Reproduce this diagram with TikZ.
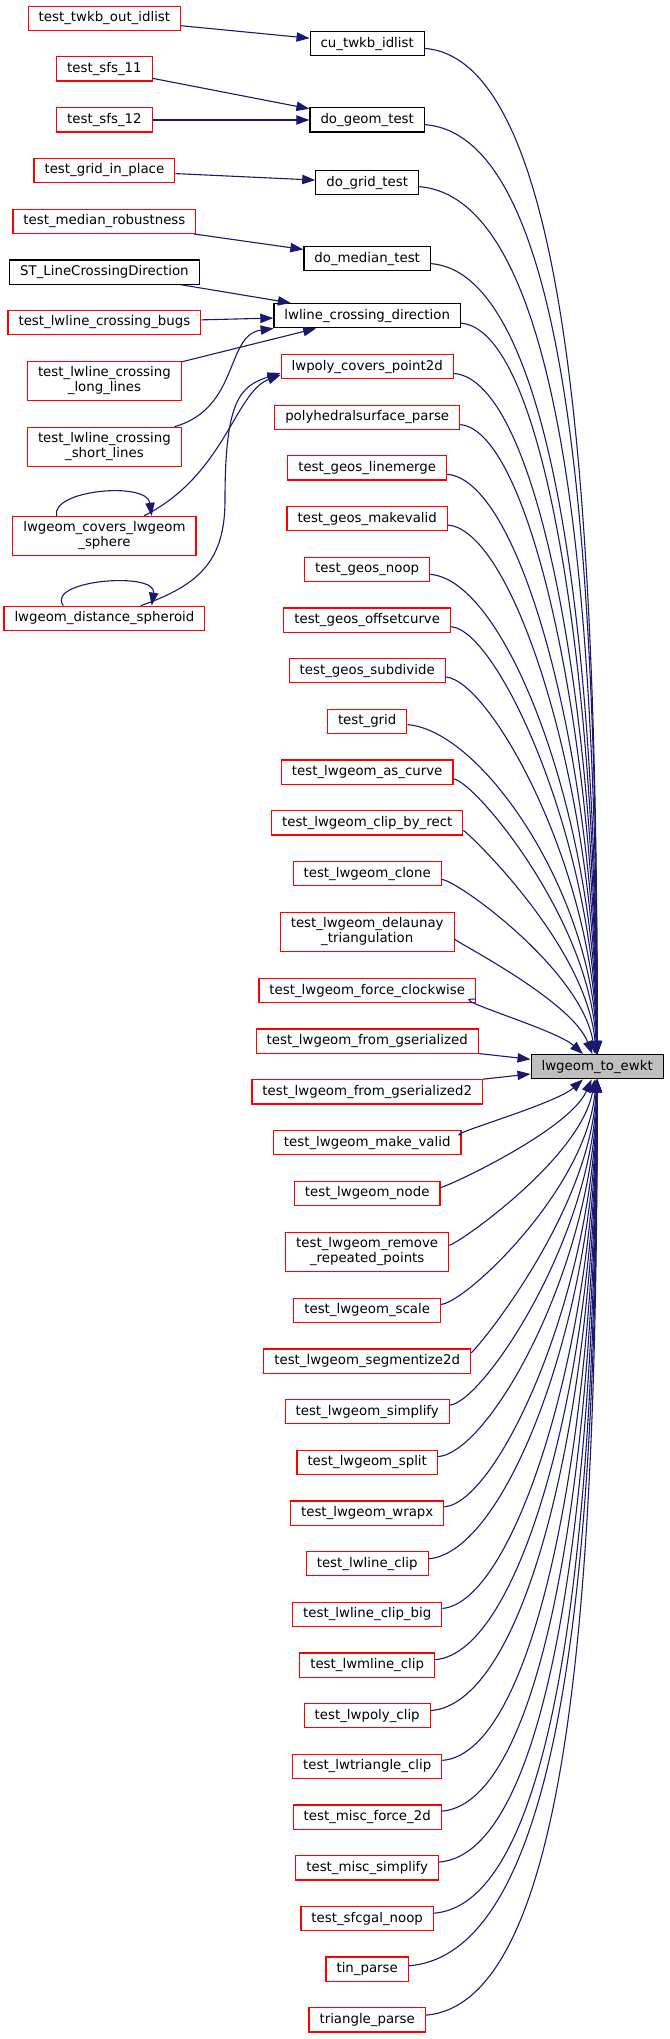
\documentclass[tikz,border=0pt]{standalone}
\usepackage{fontspec}
\setmainfont{DejaVu Sans}
\usetikzlibrary{arrows.meta}
\definecolor{edgeblue}{HTML}{191970}
\definecolor{maingray}{HTML}{BFBFBF}
\tikzset{
  basebox/.style={draw, fill=white, line width=1.2pt, inner xsep=10.5pt, inner ysep=0pt,
    minimum height=24.2pt, font=\fontsize{13.33pt}{15pt}\selectfont},
  onel/.style={basebox, text height=10pt, text depth=3pt},
  blk/.style={onel, draw=black},
  rd/.style={onel, draw=red},
  rdtwo/.style={basebox, draw=red, align=center, minimum height=38.8pt},
  mainbox/.style={onel, draw=black, fill=maingray},
  edge/.style={draw=edgeblue, line width=1.1pt, -{Triangle[length=13pt,width=9.3pt]}}
}
\begin{document}
\begin{tikzpicture}[x=1pt,y=-1pt]
\fill[white] (0,0) rectangle (669,2039);
\useasboundingbox (0,0) rectangle (669,2039);
% left column
\node[rd] (ltwkb) at (104.4,18.3) {test\_twkb\_out\_idlist};
\node[rd] (lsfsa) at (104.4,69) {test\_sfs\_11};
\node[rd] (lsfsb) at (104.4,120) {test\_sfs\_12};
\node[rd] (lgridip) at (104.4,170.3) {test\_grid\_in\_place};
\node[rd] (lmedrob) at (104.4,221.3) {test\_median\_robustness};
\node[blk] (lstlcd) at (104.4,272) {ST\_LineCrossingDirection};
\node[rd] (lbugs) at (104.4,322.3) {test\_lwline\_crossing\_bugs};
\node[rdtwo] (llong) at (104.4,381) {test\_lwline\_crossing\\\_long\_lines};
\node[rdtwo] (lshort) at (104.4,446.7) {test\_lwline\_crossing\\\_short\_lines};
\node[rdtwo] (lcovers) at (104.4,535.8) {lwgeom\_covers\_lwgeom\\\_sphere};
\node[rd] (ldist) at (104.4,618.3) {lwgeom\_distance\_spheroid};
% middle column
\node[blk] (mcu) at (367.2,43.8) {cu\_twkb\_idlist};
\node[blk] (mgeom) at (367.2,120) {do\_geom\_test};
\node[blk] (mgridt) at (367.2,182.5) {do\_grid\_test};
\node[blk] (mmedian) at (367.2,258.5) {do\_median\_test};
\node[blk] (mlcd) at (367.2,315.7) {lwline\_crossing\_direction};
\node[rd] (mlwpoly) at (367.2,366.5) {lwpoly\_covers\_point2d};
\node[rd] (mpolyh) at (367.2,417.2) {polyhedralsurface\_parse};
\node[rd] (mlinemerge) at (367.2,467.9) {test\_geos\_linemerge};
\node[rd] (mmakevalid) at (367.2,518.6) {test\_geos\_makevalid};
\node[rd] (mnoop) at (367.2,569.3) {test\_geos\_noop};
\node[rd] (moffset) at (367.2,620.0) {test\_geos\_offsetcurve};
\node[rd] (msubdiv) at (367.2,670.7) {test\_geos\_subdivide};
\node[rd] (mgrid) at (367.2,721.4) {test\_grid};
\node[rd] (mascurve) at (367.2,772.1) {test\_lwgeom\_as\_curve};
\node[rd] (mcliprect) at (367.2,822.8) {test\_lwgeom\_clip\_by\_rect};
\node[rd] (mclone) at (367.2,873.5) {test\_lwgeom\_clone};
\node[rdtwo] (mdelaunay) at (367.2,931.9) {test\_lwgeom\_delaunay\\\_triangulation};
\node[rd] (mforcecw) at (367.2,990.5) {test\_lwgeom\_force\_clockwise};
\node[rd] (mfromg) at (367.2,1041.1) {test\_lwgeom\_from\_gserialized};
\node[rd] (mfromgtwo) at (367.2,1091.8) {test\_lwgeom\_from\_gserialized2};
\node[rd] (mmkvalid) at (367.2,1142.5) {test\_lwgeom\_make\_valid};
\node[rd] (mnode) at (367.2,1193.3) {test\_lwgeom\_node};
\node[rdtwo] (mremove) at (367.2,1251.8) {test\_lwgeom\_remove\\\_repeated\_points};
\node[rd] (mscale) at (367.2,1310.3) {test\_lwgeom\_scale};
\node[rd] (msegm) at (367.2,1361.0) {test\_lwgeom\_segmentize2d};
\node[rd] (msimplify) at (367.2,1411.7) {test\_lwgeom\_simplify};
\node[rd] (msplit) at (367.2,1462.3) {test\_lwgeom\_split};
\node[rd] (mwrapx) at (367.2,1513.0) {test\_lwgeom\_wrapx};
\node[rd] (mlwlineclip) at (367.2,1563.7) {test\_lwline\_clip};
\node[rd] (mclipbig) at (367.2,1614.4) {test\_lwline\_clip\_big};
\node[rd] (mlwmline) at (367.2,1665.1) {test\_lwmline\_clip};
\node[rd] (mlwpolyclip) at (367.2,1715.7) {test\_lwpoly\_clip};
\node[rd] (mlwtri) at (367.2,1766.4) {test\_lwtriangle\_clip};
\node[rd] (mforcetwod) at (367.2,1817.1) {test\_misc\_force\_2d};
\node[rd] (mmiscsimp) at (367.2,1867.8) {test\_misc\_simplify};
\node[rd] (msfcgal) at (367.2,1918.5) {test\_sfcgal\_noop};
\node[rd] (mtin) at (367.2,1969.1) {tin\_parse};
\node[rd] (mtriangle) at (367.2,2019.8) {triangle\_parse};
% main node
\node[mainbox] (main) at (597.2,1066.7) {lwgeom\_to\_ewkt};
% left to middle edges
\draw[edge] (ltwkb) -- (mcu);
\draw[edge] (lsfsa) -- (mgeom);
\draw[edge] (lsfsb) -- (mgeom);
\draw[edge] (lgridip) -- (mgridt);
\draw[edge] (lmedrob) -- (mmedian);
\draw[edge] (lstlcd) -- (mlcd);
\draw[edge] (lbugs) -- (mlcd);
\draw[edge] (llong) -- (mlcd);
\draw[edge] (lshort) .. controls (240,408) and (225,335) .. (mlcd);
\draw[edge] (lcovers) .. controls (225,475) and (235,392) .. ([yshift=-8.5pt]mlwpoly.west);
\draw[edge] (ldist) .. controls (200,585) and (225,560) .. (225,500)
  .. controls (225,400) and (240,386) .. ([yshift=-6.5pt]mlwpoly.west);
% self loops
\draw[edge] ([xshift=-47.7pt]lcovers.north) .. controls (50,490) and (147,481) .. ([xshift=47.3pt]lcovers.north);
\draw[edge] ([xshift=-41.1pt]ldist.north) .. controls (45,580) and (157,571) .. ([xshift=47.3pt]ldist.north);
% middle to main edges
\draw[edge] (mfromg) -- (main);
\draw[edge] (mfromgtwo) -- (main);
\foreach \n/\yy in {mcu/43.8, mgeom/120, mgridt/182.5, mmedian/258.5, mlcd/315.7,
  mlwpoly/366.5, mpolyh/417.2, mlinemerge/467.9, mmakevalid/518.6, mnoop/569.3,
  moffset/620.0, msubdiv/670.7, mgrid/721.4, mascurve/772.1, mcliprect/822.8,
  mclone/873.5, mdelaunay/931.9, mforcecw/990.5, mmkvalid/1142.5, mnode/1193.3,
  mremove/1251.8, mscale/1310.3, msegm/1361.0, msimplify/1411.7, msplit/1462.3,
  mwrapx/1513.0, mlwlineclip/1563.7, mclipbig/1614.4, mlwmline/1665.1,
  mlwpolyclip/1715.7, mlwtri/1766.4, mforcetwod/1817.1, mmiscsimp/1867.8,
  msfcgal/1918.5, mtin/1969.1, mtriangle/2019.8}{
  \pgfmathsetmacro\dy{abs(1066.7-\yy)}
  \pgfmathsetmacro\sg{(\yy<1066.7) ? 1 : -1}
  \pgfmathsetmacro\ax{min(210,60+0.16*\dy)}
  \pgfmathsetmacro\by{0.08*\ax*\sg}
  \pgfmathsetmacro\kx{80*exp(-\dy/120)}
  \pgfmathsetmacro\ky{0.5*\dy*\sg}
  \draw[edge] (\n) .. controls (367.2+\ax,\yy+\by) and (597.2-\kx,1066.7-\ky) .. (main);
}
\end{tikzpicture}
\end{document}
